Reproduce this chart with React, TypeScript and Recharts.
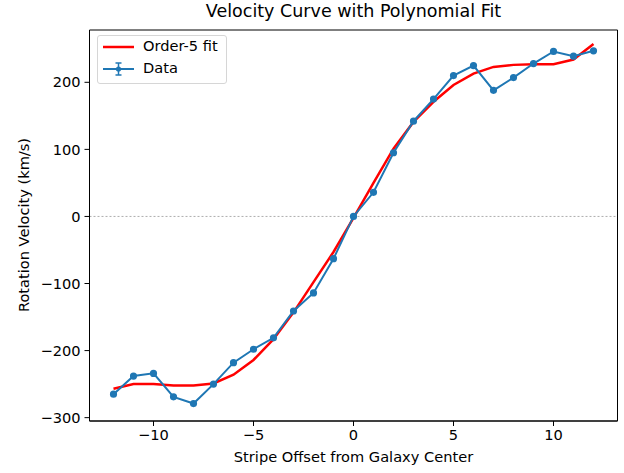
import { LineChart, Line, XAxis, YAxis, ReferenceLine, ReferenceArea } from "recharts";

const offsets = [-12, -11, -10, -9, -8, -7, -6, -5, -4, -3, -2, -1, 0, 1, 2, 3, 4, 5, 6, 7, 8, 9, 10, 11, 12];
const measured = [-265, -238, -234, -269, -279, -250, -218, -198, -181, -141, -114, -63, 0, 36, 95, 142, 175, 210, 225, 188, 207, 228, 246, 239, 247];
const fitted = [-257, -250, -250, -252, -252, -249, -236, -214, -183, -143, -98, -53, -2, 50, 101, 141, 171, 196, 213, 223, 226, 227, 227, 234, 257];
const xTicks = [-10, -5, 0, 5, 10];
const yTicks = [-300, -200, -100, 0, 100, 200];

const rows = offsets.map((x, i) => ({ x, data: measured[i], fit: fitted[i] }));

const FONT = "'DejaVu Sans', sans-serif";
const BLUE = "#1f77b4";
const RED = "#ff0000";
const X_DOM: [number, number] = [-13.2, 13.2];
const Y_DOM: [number, number] = [-305, 278];

// matplotlib uses a real minus sign
const fmt = (v: number) => String(v).replace("-", "\u2212");

export default function App() {
  const tickStyle = { fontFamily: FONT, fontSize: 14.6, fill: "#000" };
  return (
    <div style={{ position: "absolute", left: 0, top: 0, width: 624, height: 473, background: "#fff", fontFamily: FONT }}>
      <LineChart width={624} height={473} data={rows} margin={{ top: 30, right: 6.5, bottom: 0, left: 0 }}>
        <XAxis
          dataKey="x"
          type="number"
          domain={X_DOM}
          ticks={xTicks}
          tickFormatter={fmt}
          height={52}
          tickSize={5}
          tickMargin={4}
          tick={tickStyle}
          axisLine={{ stroke: "#000", strokeWidth: 1 }}
          tickLine={{ stroke: "#000" }}
          allowDataOverflow
        />
        <YAxis
          type="number"
          domain={Y_DOM}
          ticks={yTicks}
          tickFormatter={fmt}
          width={89.5}
          tickSize={5}
          tickMargin={4}
          tick={tickStyle}
          axisLine={{ stroke: "#000", strokeWidth: 1 }}
          tickLine={{ stroke: "#000" }}
          allowDataOverflow
        />
        <ReferenceArea x1={X_DOM[0]} x2={X_DOM[1]} y1={Y_DOM[0]} y2={Y_DOM[1]} fill="none" fillOpacity={0} stroke="#000" strokeWidth={1} ifOverflow="visible" />
        <ReferenceLine y={0} stroke="#999" strokeWidth={0.8} strokeDasharray="2 2" />
        <Line dataKey="fit" stroke={RED} strokeWidth={2.5} dot={false} isAnimationActive={false} />
        <Line dataKey="data" stroke={BLUE} strokeWidth={2} dot={{ r: 2.6, fill: BLUE, stroke: BLUE }} isAnimationActive={false} />
      </LineChart>

      <div style={{ position: "absolute", left: 0, width: 707, top: 1, textAlign: "center", fontSize: 17.5, color: "#000" }}>
        Velocity Curve with Polynomial Fit
      </div>
      <div style={{ position: "absolute", left: 0, width: 707, top: 448, textAlign: "center", fontSize: 14.6, color: "#000" }}>
        Stripe Offset from Galaxy Center
      </div>
      <div
        style={{
          position: "absolute",
          left: 23,
          top: 225,
          transform: "translate(-50%, -50%) rotate(-90deg)",
          whiteSpace: "nowrap",
          fontSize: 14.6,
          color: "#000",
        }}
      >
        Rotation Velocity (km/s)
      </div>

      <div
        style={{
          position: "absolute",
          left: 97,
          top: 35,
          width: 128,
          height: 47,
          border: "1px solid #d6d6d6",
          borderRadius: 3,
          background: "rgba(255,255,255,0.8)",
          fontSize: 14.6,
          color: "#000",
        }}
      >
        <svg width={40} height={47} style={{ position: "absolute", left: 0, top: 0 }}>
          <line x1={5} x2={36} y1={11} y2={11} stroke={RED} strokeWidth={2.5} />
          <line x1={5} x2={36} y1={33} y2={33} stroke={BLUE} strokeWidth={2} />
          <line x1={20.5} x2={20.5} y1={27} y2={39} stroke={BLUE} strokeWidth={1.5} />
          <line x1={17.5} x2={23.5} y1={27} y2={27} stroke={BLUE} strokeWidth={1.5} />
          <line x1={17.5} x2={23.5} y1={39} y2={39} stroke={BLUE} strokeWidth={1.5} />
          <circle cx={20.5} cy={33} r={2.6} fill={BLUE} />
        </svg>
        <div style={{ position: "absolute", left: 45, top: 1, whiteSpace: "nowrap" }}>Order-5 fit</div>
        <div style={{ position: "absolute", left: 45, top: 23, whiteSpace: "nowrap" }}>Data</div>
      </div>
    </div>
  );
}
